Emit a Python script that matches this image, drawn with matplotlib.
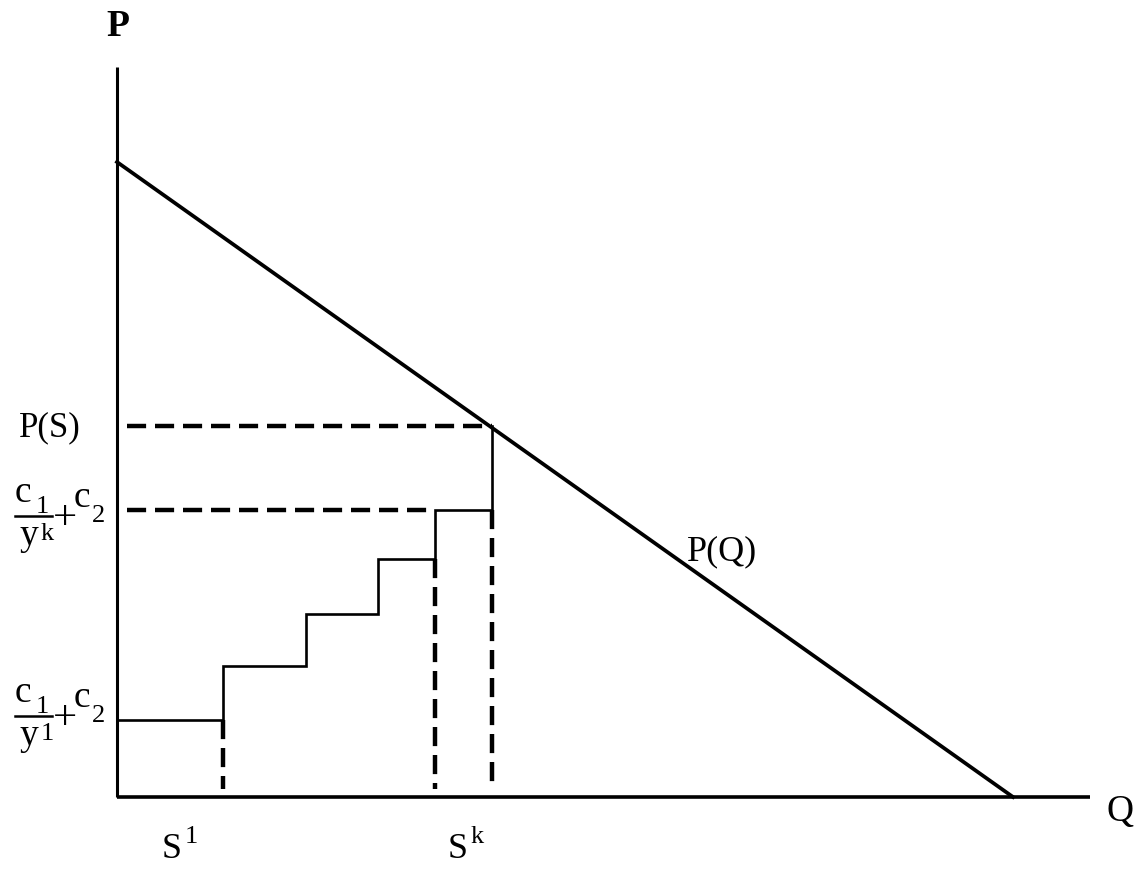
import matplotlib
matplotlib.use("Agg")
import matplotlib.pyplot as plt
from matplotlib.lines import Line2D

plt.rcParams['font.family'] = ['Liberation Serif', 'DejaVu Serif']

# Data (abstract units)
demand_q = [0.0, 8.96]          # P(Q) line endpoints (Q)
demand_p = [6.35, 0.0]          # P(Q) line endpoints (P)
step_q = [0.0, 1.06, 1.89, 2.61, 3.18, 3.75]   # step boundaries
step_p = [0.77, 1.31, 1.83, 2.38, 2.87]        # step heights
p_s = 3.71                       # P(S)
q_axis_end = 9.73
p_axis_end = 7.30

W, H = 1140, 878
fig = plt.figure(figsize=(W / 100, H / 100), dpi=100)
ax = fig.add_axes([0, 0, 1, 1])
ax.set_xlim(-1.17, 10.23)
ax.set_ylim(-0.80, 7.98)
ax.axis('off')


def px(x, y):
    return x / W, 1 - y / H


# axes
ax.plot([0, 0], [0, p_axis_end], color='black', lw=2.2, solid_capstyle='butt')
ax.plot([0, q_axis_end], [0, 0], color='black', lw=2.6, solid_capstyle='butt')

# demand line
ax.plot(demand_q, demand_p, color='black', lw=2.7)

# staircase
xs, ys = [], []
for i, h in enumerate(step_p):
    xs += [step_q[i], step_q[i + 1]]
    ys += [h, h]
xs.append(step_q[-1]); ys.append(p_s)
ax.plot(xs, ys, color='black', lw=1.9, solid_joinstyle='miter')

dash = (0, (4.3, 2.0))
dlw = 3.2
# horizontal dashed
ax.plot([0.1, step_q[-1]], [p_s, p_s], color='black', lw=dlw, linestyle=dash)
ax.plot([0.1, step_q[-2]], [step_p[-1], step_p[-1]], color='black', lw=dlw, linestyle=dash)
# vertical dashed
ax.plot([step_q[1], step_q[1]], [step_p[0], 0.08], color='black', lw=dlw, linestyle=dash)
ax.plot([step_q[-2], step_q[-2]], [step_p[-2], 0.08], color='black', lw=dlw, linestyle=dash)
ax.plot([step_q[-1], step_q[-1]], [step_p[-1], 0.08], color='black', lw=dlw, linestyle=dash)

T = ax.transAxes
ax.text(*px(118, 26), 'P', fontsize=27, fontweight='bold', ha='center', va='center', transform=T)
ax.text(*px(1120, 812), 'Q', fontsize=27, ha='center', va='center', transform=T)
ax.text(*px(50, 428), 'P(S)', fontsize=25, ha='center', va='center', transform=T)
ax.text(*px(722, 552), 'P(Q)', fontsize=26, ha='center', va='center', transform=T)

# S labels
ax.text(*px(162, 858), 'S', fontsize=26, ha='left', va='baseline', transform=T)
ax.text(*px(185, 843), '1', fontsize=19, ha='left', va='baseline', transform=T)
ax.text(*px(448, 858), 'S', fontsize=26, ha='left', va='baseline', transform=T)
ax.text(*px(471, 843), 'k', fontsize=19, ha='left', va='baseline', transform=T)


def frac_label(dy, sup):
    ax.text(*px(15, 702 + dy), 'c', fontsize=27, ha='left', va='baseline', transform=T)
    ax.text(*px(36, 713 + dy), '1', fontsize=19, ha='left', va='baseline', transform=T)
    fig.add_artist(Line2D([15 / W, 52 / W], [1 - (717 + dy) / H] * 2, color='black', lw=1.8))
    ax.text(*px(20, 745 + dy), 'y', fontsize=27, ha='left', va='baseline', transform=T)
    ax.text(*px(41, 740 + dy), sup, fontsize=19, ha='left', va='baseline', transform=T)
    ax.text(*px(53, 729 + dy), '+', fontsize=31, ha='left', va='baseline', transform=T)
    ax.text(*px(74, 707 + dy), 'c', fontsize=27, ha='left', va='baseline', transform=T)
    ax.text(*px(92, 722 + dy), '2', fontsize=19, ha='left', va='baseline', transform=T)


frac_label(-200, 'k')
frac_label(0, '1')

fig.savefig('out.png', dpi=100)
